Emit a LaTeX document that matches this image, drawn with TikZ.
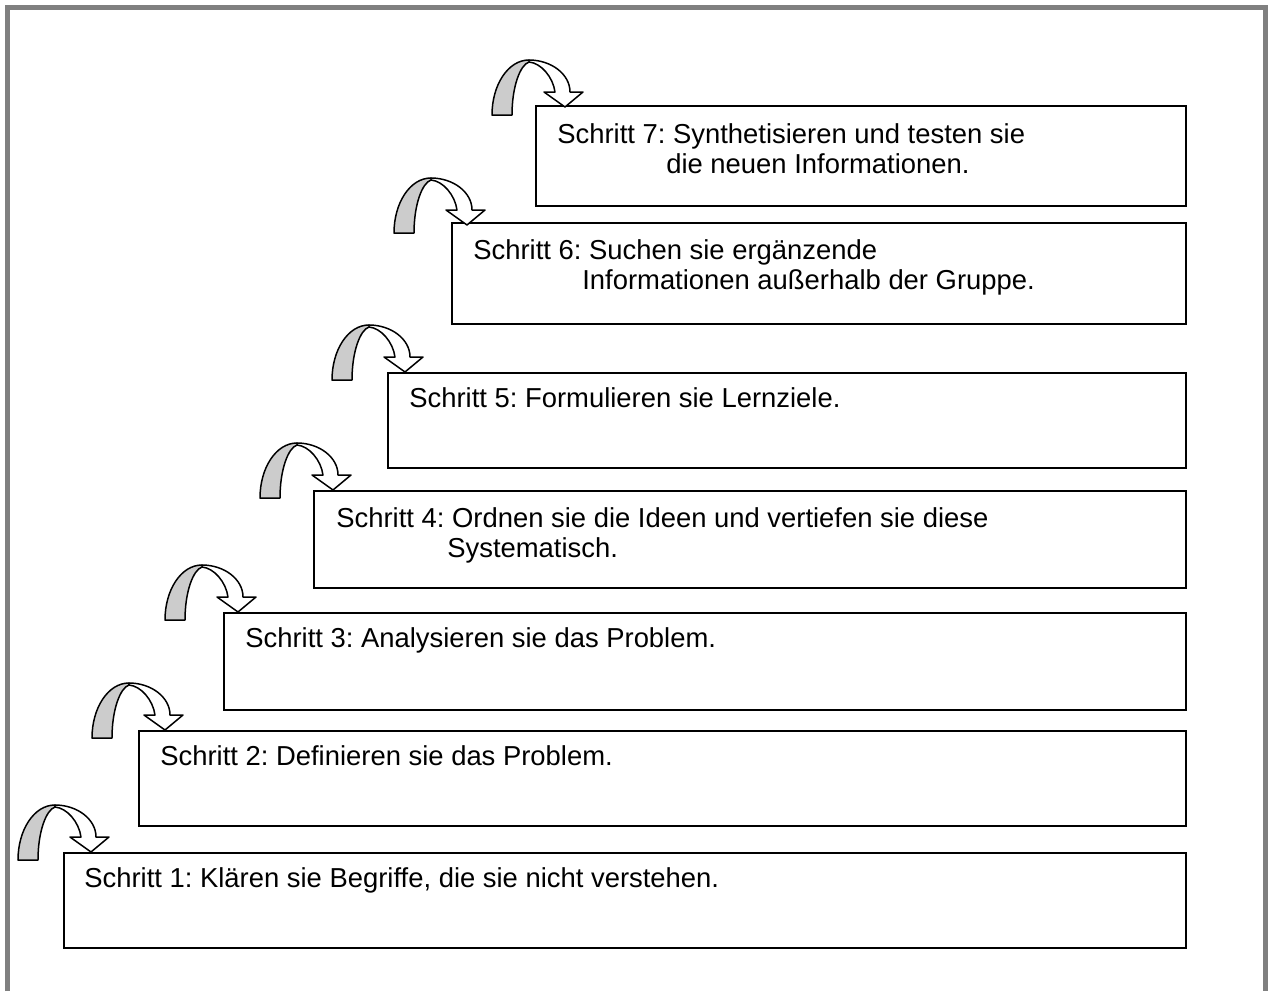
\documentclass[tikz,border=0pt]{standalone}
\usepackage{fontspec}
\setmainfont{Liberation Sans}
\frenchspacing
\usetikzlibrary{positioning}

\tikzset{
	stepbox/.style={draw, line width=1.1pt, inner sep=0pt, anchor=north west},
	steptext/.style={anchor=base west, inner sep=0pt, align=left, font=\fontsize{15.6}{17.6}\selectfont},
	turnarrow/.pic={
		%% vorderes Band mit Spitze
		\filldraw[fill=white, line width=0.85pt, line join=round]
			(-36,-47) .. controls (-14,-47) and (5,-33) .. (5,-15)
			-- (18,-15) -- (0,0) -- (-21,-15) -- (-10,-15)
			.. controls (-12,-30) and (-24,-44) .. (-36,-45) -- cycle;
		%% hinteres Band (grau)
		\filldraw[fill=gray!40, line width=0.85pt, line join=round]
			(-73,8) .. controls (-73,-22) and (-57,-47) .. (-36,-47)
			-- (-36,-45) .. controls (-45,-42) and (-53,-20) .. (-53,8) -- cycle;
	}
}

\begin{document}
\begin{tikzpicture}[x=0.02cm, y=-0.02cm]

\useasboundingbox (0,0) rectangle (1268,991);

%% Rahmen
\draw[gray, line width=2.3pt] (7.5,991) -- (7.5,7.5) -- (1265.5,7.5) -- (1265.5,991);
%%%%%%%%%%%%%%%%

%% Stufen
\node[stepbox, minimum width=22.44cm, minimum height=1.90cm] (s1) at (63,852) {};
\node[stepbox, minimum width=20.94cm, minimum height=1.90cm] (s2) at (138,730) {};
\node[stepbox, minimum width=19.24cm, minimum height=1.94cm] (s3) at (223,612) {};
\node[stepbox, minimum width=17.44cm, minimum height=1.94cm] (s4) at (313,490) {};
\node[stepbox, minimum width=15.96cm, minimum height=1.90cm] (s5) at (387,372) {};
\node[stepbox, minimum width=14.68cm, minimum height=2.02cm] (s6) at (451,222) {};
\node[stepbox, minimum width=13.00cm, minimum height=2.00cm] (s7) at (535,105) {};
%%%%%%%%%%%%%%%%

%% Texte (bei zwei Zeilen: Grundlinie der letzten Zeile)
\node[steptext] (t1) at ([xshift=0.42cm, yshift=-0.70cm]s1.north west) {Schritt 1: Klären sie Begriffe, die sie nicht verstehen.};
\node[steptext] (t2) at ([xshift=0.44cm, yshift=-0.70cm]s2.north west) {Schritt 2: Definieren sie das Problem.};
\node[steptext] (t3) at ([xshift=0.44cm, yshift=-0.70cm]s3.north west) {Schritt 3: Analysieren sie das Problem.};
\node[steptext] (t4) at ([xshift=0.46cm, yshift=-1.36cm]s4.north west) {Schritt 4: Ordnen sie die Ideen und vertiefen sie diese\\\hspace*{2.22cm}Systematisch.};
\node[steptext] (t5) at ([xshift=0.44cm, yshift=-0.70cm]s5.north west) {Schritt 5: Formulieren sie Lernziele.};
\node[steptext] (t6) at ([xshift=0.44cm, yshift=-1.36cm]s6.north west) {Schritt 6: Suchen sie ergänzende\\\hspace*{2.18cm}Informationen außerhalb der Gruppe.};
\node[steptext] (t7) at ([xshift=0.44cm, yshift=-1.38cm]s7.north west) {Schritt 7: Synthetisieren und testen sie\\\hspace*{2.18cm}die neuen Informationen.};
%%%%%%%%%%%%%%%%

%% Pfeile
\pic at ([xshift=0.56cm]s1.north west) {turnarrow};
\pic at ([xshift=0.54cm]s2.north west) {turnarrow};
\pic at ([xshift=0.30cm]s3.north west) {turnarrow};
\pic at ([xshift=0.40cm]s4.north west) {turnarrow};
\pic at ([xshift=0.36cm]s5.north west) {turnarrow};
\pic at ([xshift=0.32cm, yshift=-0.06cm]s6.north west) {turnarrow};
\pic at ([xshift=0.60cm, yshift=-0.04cm]s7.north west) {turnarrow};

\end{tikzpicture}
\end{document}
